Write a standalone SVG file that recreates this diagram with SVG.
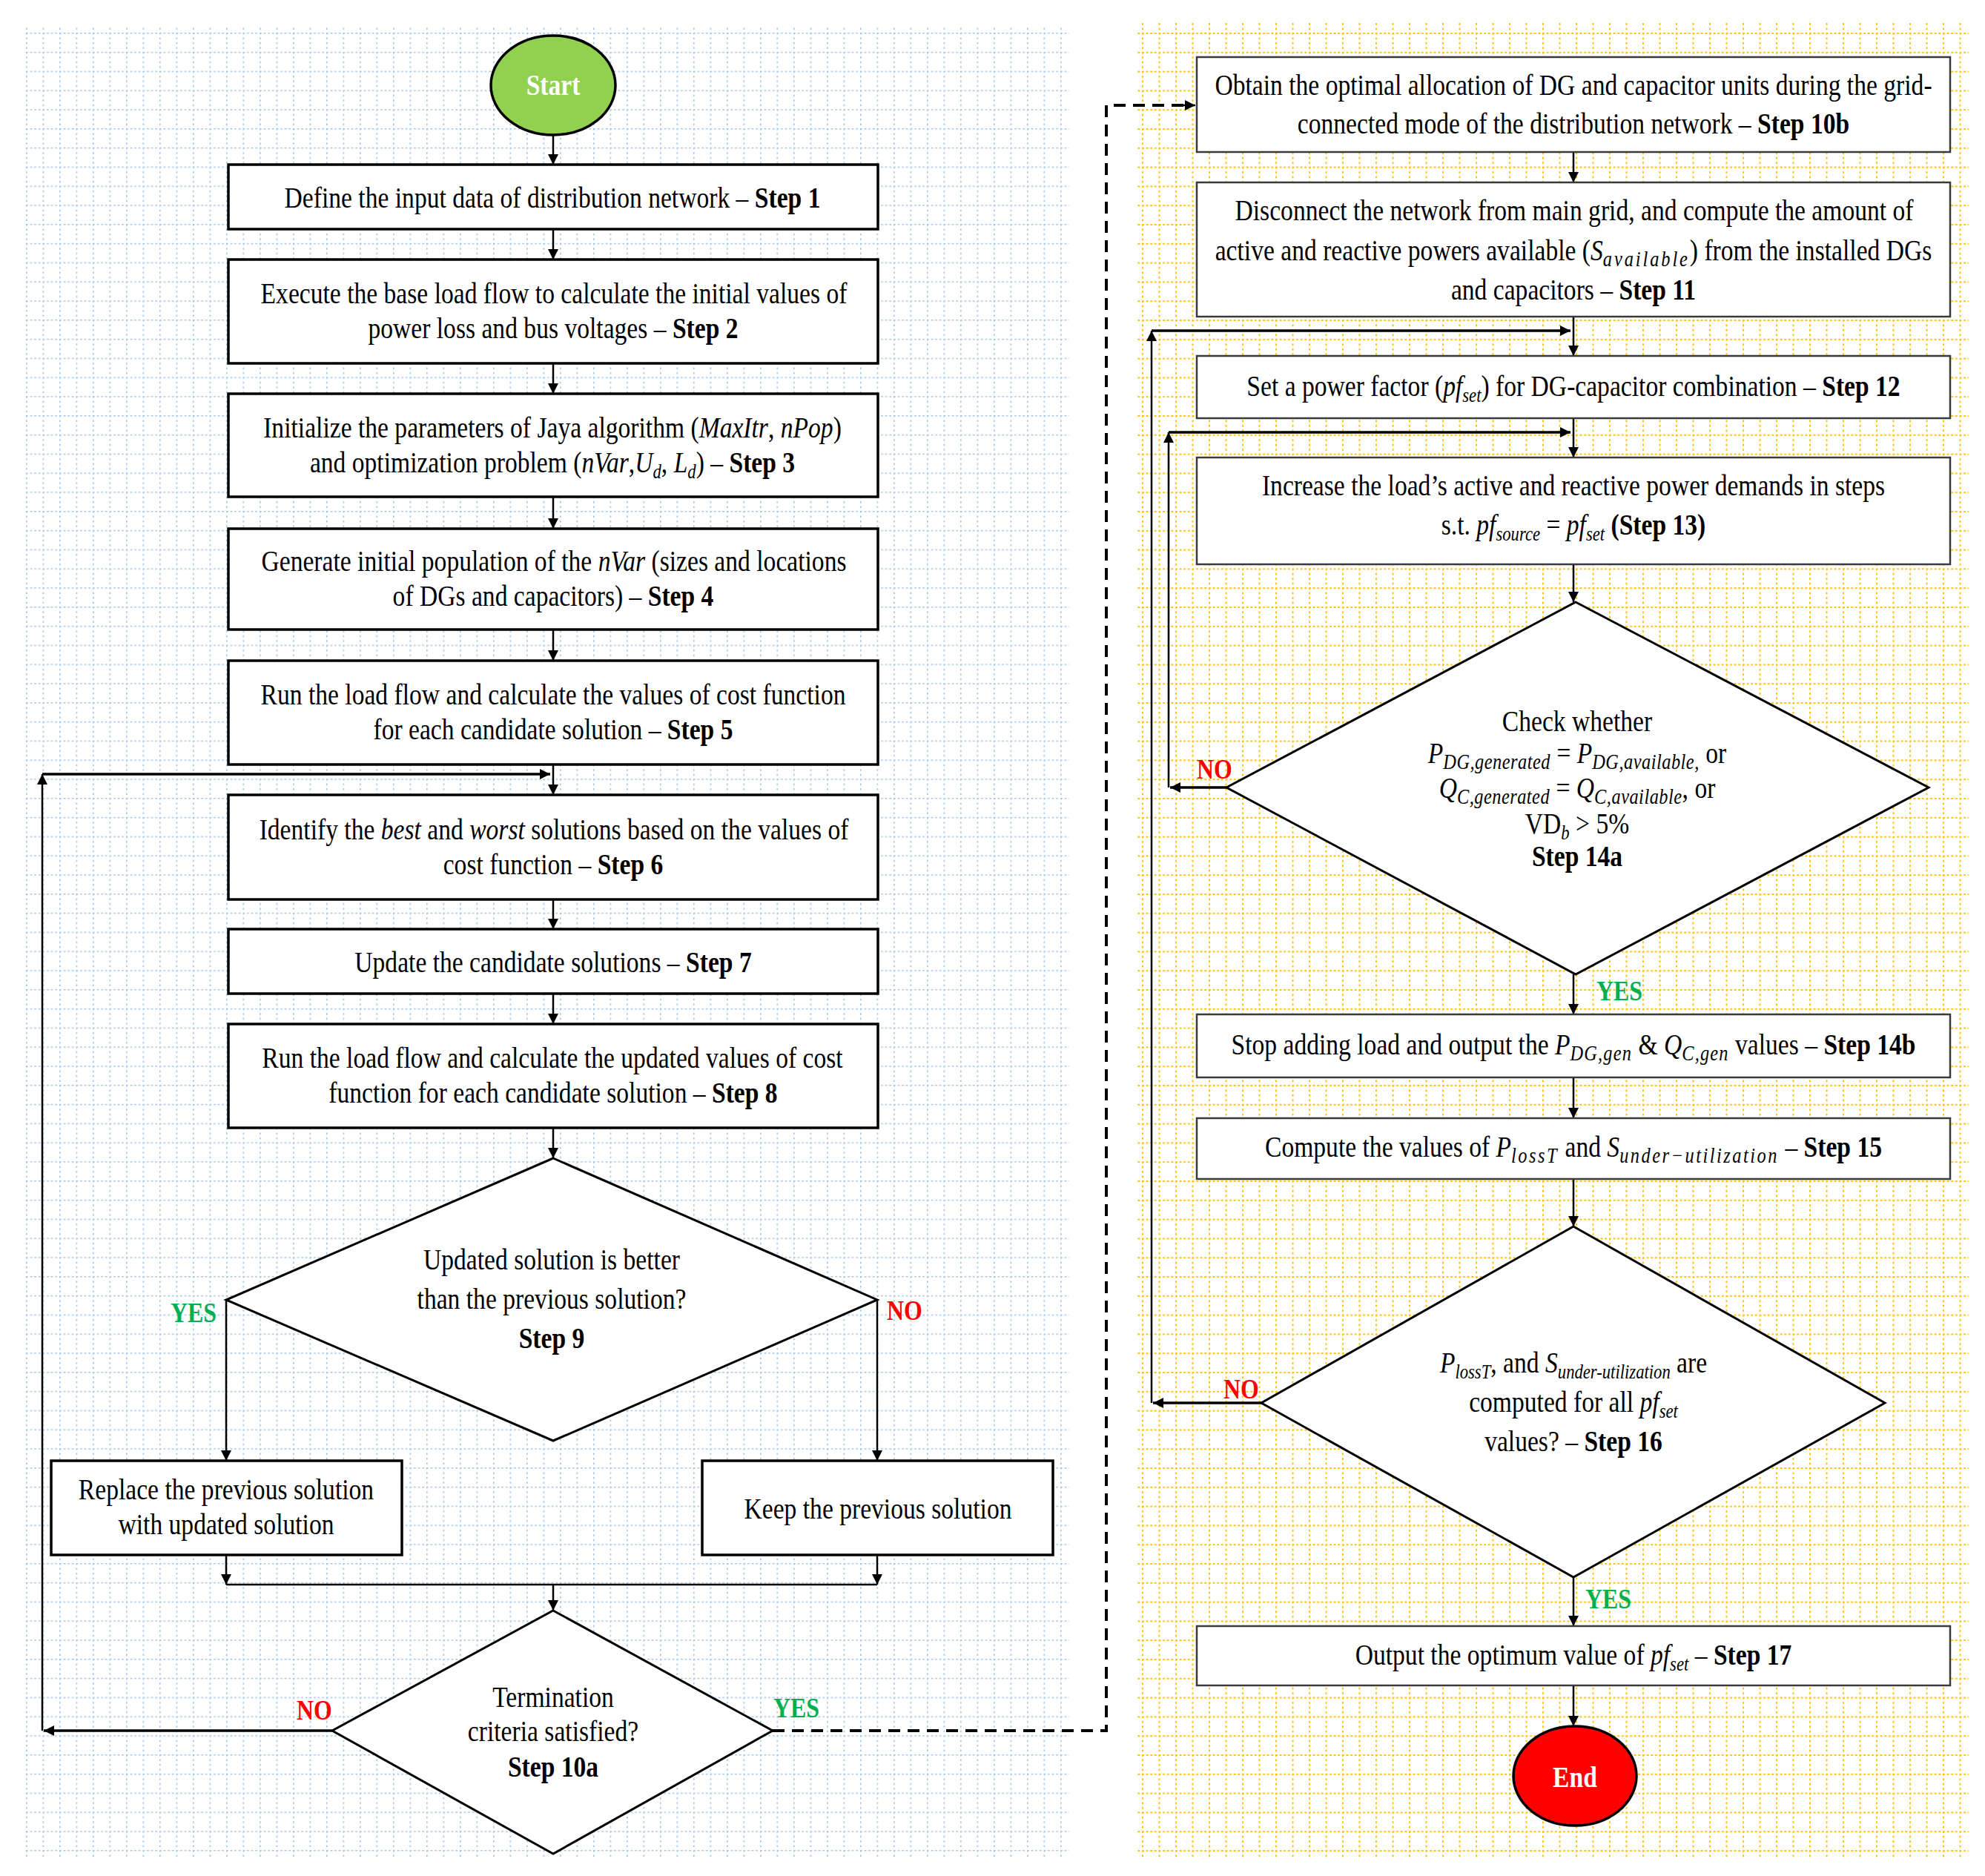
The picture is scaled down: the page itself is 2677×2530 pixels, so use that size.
<svg xmlns="http://www.w3.org/2000/svg" width="2677" height="2530" viewBox="0 0 2677 2530">
<defs>
<style>
.t{font-family:"Liberation Serif","Times New Roman",serif;font-size:40px;fill:#000;text-anchor:middle}
.l{text-anchor:start}
.b{font-weight:bold}
.i{font-style:italic}
.s{font-size:27px}
.m{font-size:29px;font-style:italic}
.box{fill:#fff;stroke:#000;stroke-width:3.5}
.rbox{fill:#fff;stroke:#3a3a3a;stroke-width:2.5}
.dia{fill:#fff;stroke:#000;stroke-width:3}
.ln{stroke:#000;stroke-width:2.5;fill:none}
.thk{stroke:#000;stroke-width:3.5;fill:none}
.dash{stroke:#000;stroke-width:4;fill:none;stroke-dasharray:16 10}
.yes{fill:#00B050;font-weight:bold;font-size:38px}
.no{fill:#FF0000;font-weight:bold;font-size:38px}
.wt{fill:#fff;font-weight:bold}
</style>
<pattern id="gb" patternUnits="userSpaceOnUse" x="35" y="44" width="22.5" height="25.8">
<line x1="0.8" y1="0" x2="0.8" y2="25.8" stroke="#9DC3E6" stroke-width="1.6" stroke-dasharray="2.6 3.85"/>
<line x1="0" y1="0.8" x2="22.5" y2="0.8" stroke="#9DC3E6" stroke-width="1.6" stroke-dasharray="2.6 3.025"/>
</pattern>
<pattern id="gy" patternUnits="userSpaceOnUse" x="1540" y="44" width="22.5" height="25.8">
<line x1="1" y1="0" x2="1" y2="25.8" stroke="#FFC000" stroke-width="2" stroke-dasharray="2.8 3.65"/>
<line x1="0" y1="1" x2="22.5" y2="1" stroke="#FFC000" stroke-width="2" stroke-dasharray="2.8 2.825"/>
</pattern>
<marker id="ah" viewBox="0 0 10 10" refX="10" refY="5" markerWidth="18" markerHeight="14" orient="auto" markerUnits="userSpaceOnUse">
<path d="M0,0 L10,5 L0,10 z" fill="#000"/>
</marker>
</defs>
<rect width="2677" height="2530" fill="#fff"/>
<rect x="35" y="35" width="1407" height="2473" fill="url(#gb)"/>
<rect x="1534" y="29" width="1121" height="2477" fill="url(#gy)"/>

<g id="connectors">
<path class="ln" d="M746,182 V222" marker-end="url(#ah)"/>
<path class="ln" d="M746,309 V350" marker-end="url(#ah)"/>
<path class="ln" d="M746,490 V531" marker-end="url(#ah)"/>
<path class="ln" d="M746,670 V713" marker-end="url(#ah)"/>
<path class="ln" d="M746,849 V891" marker-end="url(#ah)"/>
<path class="ln" d="M746,1031 V1072" marker-end="url(#ah)"/>
<path class="ln" d="M746,1213 V1253" marker-end="url(#ah)"/>
<path class="ln" d="M746,1340 V1381" marker-end="url(#ah)"/>
<path class="ln" d="M746,1521 V1562" marker-end="url(#ah)"/>
<path class="ln" d="M305,1753 V1970" marker-end="url(#ah)"/>
<path class="ln" d="M1183,1753 V1970" marker-end="url(#ah)"/>
<path class="ln" d="M305,2097 V2137" marker-end="url(#ah)"/>
<path class="ln" d="M1183,2097 V2137" marker-end="url(#ah)"/>
<path class="ln" d="M305,2137 H1183" stroke="#444"/>
<path class="ln" d="M746,2137 V2172" marker-end="url(#ah)"/>
<path class="thk" d="M448,2334 H59" marker-end="url(#ah)"/>
<path class="ln" d="M57,2334 V1044" marker-end="url(#ah)"/>
<path class="thk" d="M57,1044 H742" marker-end="url(#ah)"/>
<path class="dash" d="M1042,2334 H1492 V142 H1596"/>
<path class="ln" d="M1596,142 H1612" marker-end="url(#ah)"/>

<path class="ln" d="M2122,205 V246" marker-end="url(#ah)"/>
<path class="ln" d="M2122,427 V480" marker-end="url(#ah)"/>
<path class="ln" d="M2122,564 V617" marker-end="url(#ah)"/>
<path class="ln" d="M2122,761 V812" marker-end="url(#ah)"/>
<path class="ln" d="M2122,1314 V1368" marker-end="url(#ah)"/>
<path class="ln" d="M2122,1453 V1508" marker-end="url(#ah)"/>
<path class="ln" d="M2122,1590 V1654" marker-end="url(#ah)"/>
<path class="ln" d="M2122,2127 V2193" marker-end="url(#ah)"/>
<path class="ln" d="M2122,2273 V2328" marker-end="url(#ah)"/>
<path class="thk" d="M1654,1062 H1578" marker-end="url(#ah)"/>
<path class="ln" d="M1576,1062 V583" marker-end="url(#ah)"/>
<path class="thk" d="M1576,583 H2118" marker-end="url(#ah)"/>
<path class="thk" d="M1701,1892 H1555" marker-end="url(#ah)"/>
<path class="ln" d="M1553,1892 V446" marker-end="url(#ah)"/>
<path class="thk" d="M1553,446 H2118" marker-end="url(#ah)"/>
</g>

<g id="start">
<ellipse cx="746" cy="115" rx="84" ry="67" fill="#92D050" stroke="#000" stroke-width="3.5"/>
<text class="t wt" transform="translate(746,128) scale(0.84,1)">Start</text>
</g>

<g id="step1">
<rect class="box" x="308" y="222" width="876" height="87"/>
<text class="t" transform="translate(745,280) scale(0.84,1)">Define the input data of distribution network – <tspan class="b">Step 1</tspan></text>
</g>

<g id="step2">
<rect class="box" x="308" y="350" width="876" height="140"/>
<text class="t" transform="translate(747,409) scale(0.84,1)">Execute the base load flow to calculate the initial values of</text>
<text class="t" transform="translate(746,456) scale(0.84,1)">power loss and bus voltages – <tspan class="b">Step 2</tspan></text>
</g>

<g id="step3">
<rect class="box" x="308" y="531" width="876" height="139"/>
<text class="t" transform="translate(745,590) scale(0.84,1)">Initialize the parameters of Jaya algorithm (<tspan class="i">MaxItr</tspan>, <tspan class="i">nPop</tspan>)</text>
<text class="t" transform="translate(745,637) scale(0.84,1)">and optimization problem (<tspan class="i">nVar</tspan>,<tspan class="i">U</tspan><tspan class="s i" dy="8">d</tspan><tspan dy="-8">, </tspan><tspan class="i">L</tspan><tspan class="s i" dy="8">d</tspan><tspan dy="-8">) – </tspan><tspan class="b">Step 3</tspan></text>
</g>

<g id="step4">
<rect class="box" x="308" y="713" width="876" height="136"/>
<text class="t" transform="translate(747,770) scale(0.84,1)">Generate initial population of the <tspan class="i">nVar</tspan> (sizes and locations</text>
<text class="t" transform="translate(746,817) scale(0.84,1)">of DGs and capacitors) – <tspan class="b">Step 4</tspan></text>
</g>

<g id="step5">
<rect class="box" x="308" y="891" width="876" height="140"/>
<text class="t" transform="translate(746,950) scale(0.84,1)">Run the load flow and calculate the values of cost function</text>
<text class="t" transform="translate(746,997) scale(0.84,1)">for each candidate solution – <tspan class="b">Step 5</tspan></text>
</g>

<g id="step6">
<rect class="box" x="308" y="1072" width="876" height="141"/>
<text class="t" transform="translate(747,1132) scale(0.84,1)">Identify the <tspan class="i">best</tspan> and <tspan class="i">worst</tspan> solutions based on the values of</text>
<text class="t" transform="translate(746,1179) scale(0.84,1)">cost function – <tspan class="b">Step 6</tspan></text>
</g>

<g id="step7">
<rect class="box" x="308" y="1253" width="876" height="87"/>
<text class="t" transform="translate(746,1311) scale(0.84,1)">Update the candidate solutions – <tspan class="b">Step 7</tspan></text>
</g>

<g id="step8">
<rect class="box" x="308" y="1381" width="876" height="140"/>
<text class="t" transform="translate(745,1440) scale(0.84,1)">Run the load flow and calculate the updated values of cost</text>
<text class="t" transform="translate(746,1487) scale(0.84,1)">function for each candidate solution – <tspan class="b">Step 8</tspan></text>
</g>

<g id="step9">
<polygon class="dia" points="746,1562 1183,1753 746,1943 305,1753"/>
<text class="t" transform="translate(744,1712) scale(0.84,1)">Updated solution is better</text>
<text class="t" transform="translate(744,1765) scale(0.84,1)">than the previous solution?</text>
<text class="t b" transform="translate(744,1818) scale(0.84,1)">Step 9</text>
<text class="t l yes" transform="translate(230,1783) scale(0.84,1)">YES</text>
<text class="t l no" transform="translate(1196,1780) scale(0.84,1)">NO</text>
</g>

<g id="replace">
<rect class="box" x="69" y="1970" width="473" height="127"/>
<text class="t" transform="translate(305,2022) scale(0.84,1)">Replace the previous solution</text>
<text class="t" transform="translate(305,2069) scale(0.84,1)">with updated solution</text>
</g>

<g id="keep">
<rect class="box" x="947" y="1970" width="473" height="127"/>
<text class="t" transform="translate(1184,2048) scale(0.84,1)">Keep the previous solution</text>
</g>

<g id="step10a">
<polygon class="dia" points="746,2172 1042,2334 746,2500 448,2334"/>
<text class="t" transform="translate(746,2302) scale(0.84,1)">Termination</text>
<text class="t" transform="translate(746,2348) scale(0.84,1)">criteria satisfied?</text>
<text class="t b" transform="translate(746,2396) scale(0.84,1)">Step 10a</text>
<text class="t l no" transform="translate(400,2319) scale(0.84,1)">NO</text>
<text class="t l yes" transform="translate(1043,2316) scale(0.84,1)">YES</text>
</g>

<g id="step10b">
<rect class="rbox" x="1614" y="77" width="1016" height="128"/>
<text class="t" transform="translate(2122,128) scale(0.84,1)">Obtain the optimal allocation of DG and capacitor units during the grid-</text>
<text class="t" transform="translate(2122,180) scale(0.84,1)">connected mode of the distribution network – <tspan class="b">Step 10b</tspan></text>
</g>

<g id="step11">
<rect class="rbox" x="1614" y="246" width="1016" height="181"/>
<text class="t" transform="translate(2123,297) scale(0.84,1)">Disconnect the network from main grid, and compute the amount of</text>
<text class="t" transform="translate(2122,351) scale(0.84,1)">active and reactive powers available (<tspan class="i">S</tspan><tspan class="m" dy="8" letter-spacing="3.5">available</tspan><tspan dy="-8">) from the installed DGs</tspan></text>
<text class="t" transform="translate(2122,404) scale(0.84,1)">and capacitors – <tspan class="b">Step 11</tspan></text>
</g>

<g id="step12">
<rect class="rbox" x="1614" y="480" width="1016" height="84"/>
<text class="t" transform="translate(2122,534) scale(0.84,1)">Set a power factor (<tspan class="i">pf</tspan><tspan class="s i" dy="8">set</tspan><tspan dy="-8">) for DG-capacitor combination – </tspan><tspan class="b">Step 12</tspan></text>
</g>

<g id="step13">
<rect class="rbox" x="1614" y="617" width="1016" height="144"/>
<text class="t" transform="translate(2122,668) scale(0.84,1)">Increase the load’s active and reactive power demands in steps</text>
<text class="t" transform="translate(2122,721) scale(0.84,1)">s.t. <tspan class="i">pf</tspan><tspan class="s i" dy="8">source</tspan><tspan dy="-8"> = </tspan><tspan class="i">pf</tspan><tspan class="s i" dy="8">set</tspan><tspan dy="-8" class="b">  (Step 13)</tspan></text>
</g>

<g id="step14a">
<polygon class="dia" points="2125,812 2601,1062 2125,1314 1654,1062"/>
<text class="t" transform="translate(2127,986) scale(0.84,1)">Check whether</text>
<text class="t" transform="translate(2127,1029) scale(0.84,1)"><tspan class="i">P</tspan><tspan class="m" dy="8" letter-spacing="0.6">DG,generated</tspan><tspan dy="-8"> = </tspan><tspan class="i">P</tspan><tspan class="m" dy="8" letter-spacing="0.6">DG,available,</tspan><tspan dy="-8"> or</tspan></text>
<text class="t" transform="translate(2127,1076) scale(0.84,1)"><tspan class="i">Q</tspan><tspan class="m" dy="8" letter-spacing="0.6">C,generated</tspan><tspan dy="-8"> = </tspan><tspan class="i">Q</tspan><tspan class="m" dy="8" letter-spacing="0.6">C,available</tspan><tspan dy="-8">, or</tspan></text>
<text class="t" transform="translate(2127,1124) scale(0.84,1)">VD<tspan class="s i" dy="8">b</tspan><tspan dy="-8"> &gt; 5%</tspan></text>
<text class="t b" transform="translate(2127,1168) scale(0.84,1)">Step 14a</text>
<text class="t l no" transform="translate(1614,1050) scale(0.84,1)">NO</text>
<text class="t l yes" transform="translate(2153,1349) scale(0.84,1)">YES</text>
</g>

<g id="step14b">
<rect class="rbox" x="1614" y="1368" width="1016" height="85"/>
<text class="t" transform="translate(2122,1422) scale(0.84,1)">Stop adding load and output the <tspan class="i">P</tspan><tspan class="m" dy="8" letter-spacing="1.4">DG,gen</tspan><tspan dy="-8"> &amp; </tspan><tspan class="i">Q</tspan><tspan class="m" dy="8" letter-spacing="1.4">C,gen</tspan><tspan dy="-8"> values – </tspan><tspan class="b">Step 14b</tspan></text>
</g>

<g id="step15">
<rect class="rbox" x="1614" y="1508" width="1016" height="82"/>
<text class="t" transform="translate(2122,1560) scale(0.84,1)">Compute the values of <tspan class="i">P</tspan><tspan class="m" dy="8" letter-spacing="3">lossT</tspan><tspan dy="-8"> and </tspan><tspan class="i">S</tspan><tspan class="m" dy="8" letter-spacing="3">under−utilization</tspan><tspan dy="-8"> – </tspan><tspan class="b">Step 15</tspan></text>
</g>

<g id="step16">
<polygon class="dia" points="2122,1654 2542,1892 2122,2127 1701,1892"/>
<text class="t" transform="translate(2122,1851) scale(0.84,1)"><tspan class="i">P</tspan><tspan class="s i" dy="8">lossT</tspan><tspan dy="-8">, and </tspan><tspan class="i">S</tspan><tspan class="s i" dy="8">under-utilization</tspan><tspan dy="-8"> are</tspan></text>
<text class="t" transform="translate(2122,1904) scale(0.84,1)">computed for all <tspan class="i">pf</tspan><tspan class="s i" dy="8">set</tspan></text>
<text class="t" transform="translate(2122,1957) scale(0.84,1)">values? – <tspan class="b">Step 16</tspan></text>
<text class="t l no" transform="translate(1650,1886) scale(0.84,1)">NO</text>
<text class="t l yes" transform="translate(2138,2169) scale(0.84,1)">YES</text>
</g>

<g id="step17">
<rect class="rbox" x="1614" y="2193" width="1016" height="80"/>
<text class="t" transform="translate(2122,2245) scale(0.84,1)">Output the optimum value of <tspan class="i">pf</tspan><tspan class="s i" dy="8">set</tspan><tspan dy="-8"> – </tspan><tspan class="b">Step 17</tspan></text>
</g>

<g id="end">
<ellipse cx="2124" cy="2395" rx="83" ry="67" fill="#FF0000" stroke="#000" stroke-width="3.5"/>
<text class="t wt" transform="translate(2124,2410) scale(0.84,1)">End</text>
</g>
</svg>
